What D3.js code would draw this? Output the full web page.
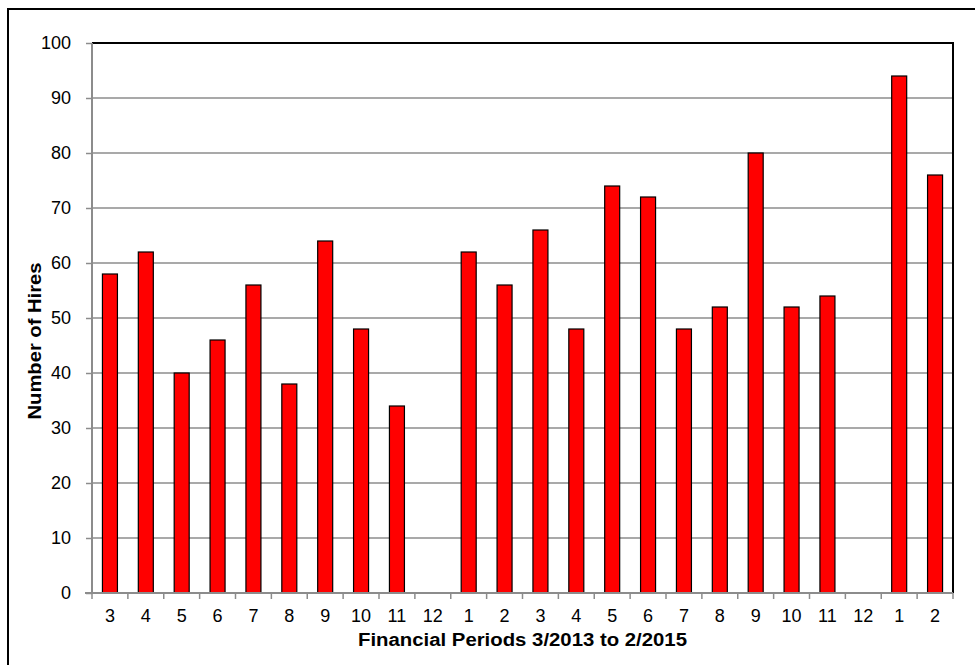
<!DOCTYPE html>
<html>
<head>
<meta charset="utf-8">
<script src="https://cdn.jsdelivr.net/npm/d3@7"></script>
<style>
  html, body { margin: 0; padding: 0; background: #fff; }
  svg { display: block; font-family: "Liberation Sans", Arial, sans-serif; }
</style>
</head>
<body>
<svg id="chart" width="975" height="665"></svg>
<script>
// Monthly hires by financial period, 3/2013 through 2/2015
const periods = ["3","4","5","6","7","8","9","10","11","12","1","2","3","4","5","6","7","8","9","10","11","12","1","2"];
const hires   = [58, 62, 40, 46, 56, 38, 64, 48, 34, 0, 62, 56, 66, 48, 74, 72, 48, 52, 80, 52, 54, 0, 94, 76];
const yTicks  = [0, 10, 20, 30, 40, 50, 60, 70, 80, 90, 100];

const svg = d3.select("#chart");
const W = 975, H = 665;
const plot = { left: 92, top: 43, right: 953, bottom: 593 };
const gridGrey = "#8c8c8c";

// outer chart frame (runs past the window on right/bottom)
svg.append("rect")
  .attr("x", 8).attr("y", 9)
  .attr("width", W).attr("height", H)
  .attr("fill", "#fff").attr("stroke", "#000").attr("stroke-width", 2);

const keys = periods.map((p, i) => i);
const x = d3.scaleBand().domain(keys).range([plot.left, plot.right]).paddingInner(0).paddingOuter(0);
const y = d3.scaleLinear().domain([0, 100]).range([plot.bottom, plot.top]);

// horizontal gridlines
svg.append("g")
  .selectAll("line")
  .data(yTicks.filter(t => t > 0 && t < 100))
  .join("line")
  .attr("x1", plot.left).attr("x2", plot.right)
  .attr("y1", d => y(d)).attr("y2", d => y(d))
  .attr("stroke", gridGrey).attr("stroke-width", 1.5);

// plot area border (top and right in black)
svg.append("path")
  .attr("d", `M${plot.left},${plot.top}H${plot.right}V${plot.bottom}`)
  .attr("fill", "none").attr("stroke", "#000").attr("stroke-width", 2);

// bars
const barW = 15;
svg.append("g")
  .selectAll("rect")
  .data(hires.map((v, i) => ({ i, v })).filter(d => d.v > 0))
  .join("rect")
  .attr("x", d => x(d.i) + x.bandwidth() / 2 - barW / 2)
  .attr("y", d => y(d.v))
  .attr("width", barW)
  .attr("height", d => y(0) - y(d.v))
  .attr("fill", "#ff0000")
  .attr("stroke", "#000").attr("stroke-width", 1.2);

// y axis
const yAxis = d3.axisLeft(y).tickValues(yTicks).tickSize(6).tickPadding(15);
const gy = svg.append("g").attr("transform", `translate(${plot.left},0)`).call(yAxis);
gy.select(".domain").attr("stroke", gridGrey).attr("stroke-width", 2).attr("d", `M0,${plot.top}V${plot.bottom}`);
gy.selectAll(".tick line").attr("stroke", gridGrey).attr("stroke-width", 1.5);
gy.selectAll(".tick text").attr("font-size", 18).attr("fill", "#000")
  .attr("font-family", "Liberation Sans, Arial, sans-serif");

// x axis: ticks sit on band boundaries, labels at band centres
const xBoundary = d3.scaleLinear().domain([0, periods.length]).range([plot.left, plot.right]);
const gx = svg.append("g").attr("transform", `translate(0,${plot.bottom})`);
gx.append("line")
  .attr("x1", plot.left - 7).attr("x2", plot.right)
  .attr("stroke", gridGrey).attr("stroke-width", 2);
gx.selectAll(".xtick")
  .data(d3.range(periods.length + 1))
  .join("line")
  .attr("class", "xtick")
  .attr("x1", d => xBoundary(d)).attr("x2", d => xBoundary(d))
  .attr("y1", 0).attr("y2", 6)
  .attr("stroke", gridGrey).attr("stroke-width", 1.5);
gx.selectAll(".xlabel")
  .data(periods.map((p, i) => ({ p, i })))
  .join("text")
  .attr("class", "xlabel")
  .attr("x", d => x(d.i) + x.bandwidth() / 2)
  .attr("y", 29)
  .attr("text-anchor", "middle")
  .attr("font-size", 18)
  .text(d => d.p);

// axis titles
svg.append("text")
  .attr("x", (plot.left + plot.right) / 2)
  .attr("y", 646)
  .attr("text-anchor", "middle")
  .attr("font-size", 18).attr("font-weight", "bold")
  .attr("textLength", 329).attr("lengthAdjust", "spacingAndGlyphs")
  .text("Financial Periods 3/2013 to 2/2015");

svg.append("text")
  .attr("transform", `translate(40.5,341) rotate(-90)`)
  .attr("text-anchor", "middle")
  .attr("font-size", 18.5).attr("font-weight", "bold")
  .attr("textLength", 157).attr("lengthAdjust", "spacingAndGlyphs")
  .text("Number of Hires");
</script>
</body>
</html>
